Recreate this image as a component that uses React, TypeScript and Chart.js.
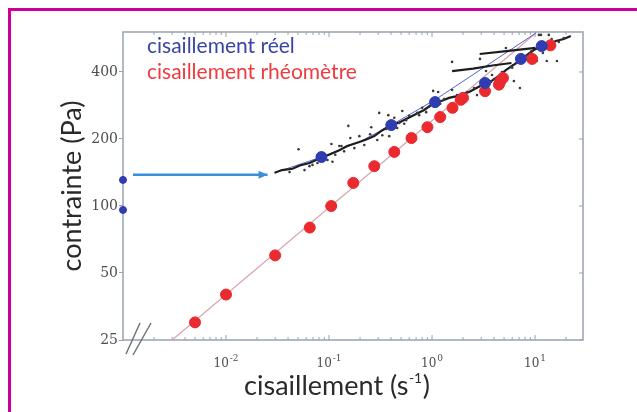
import React, { useEffect, useRef } from 'react';
import { Chart, registerables } from 'chart.js';

Chart.register(...registerables);

// ---- axis ranges ----
const shearMin = 0.001;
const shearMax = 29.2;
const stressMin = 25;
const stressMax = 605;

// ---- ticks ----
const stressTicks = [25, 50, 100, 200, 400];
const shearMajorTicks = [0.01, 0.1, 1, 10];
const shearTickBase = ['10', '10', '10', '10'];
const shearTickExp = ['-2', '-1', '0', '1'];
const shearMinorTicks = [
  0.002, 0.003, 0.004, 0.005, 0.006, 0.007, 0.008, 0.009,
  0.02, 0.03, 0.04, 0.05, 0.06, 0.07, 0.08, 0.09,
  0.2, 0.3, 0.4, 0.5, 0.6, 0.7, 0.8, 0.9,
  2, 3, 4, 5, 6, 7, 8, 9, 20,
];

// ---- texts ----
const xTitleMain = 'cisaillement (s';
const xTitleExp = '-1';
const xTitleEnd = ')';
const yTitle = 'contrainte (Pa)';
const legendReal = 'cisaillement réel';
const legendRheo = 'cisaillement rhéomètre';

// ---- rheometer shear (red markers) ----
const rheoShear = [0.005, 0.01, 0.03, 0.065, 0.105, 0.172, 0.275, 0.43, 0.632, 0.902, 1.2, 1.58, 1.9, 2.0, 3.27, 4.46, 4.6, 4.88, 9.37, 14.1];
const rheoStress = [30, 40, 60, 80, 100, 127, 151, 175, 202, 226, 251, 276, 300, 306, 328, 351, 363, 376, 458, 527];

// ---- real shear (blue markers) ----
const realShear = [0.0844, 0.402, 1.07, 3.27, 7.29, 11.6];
const realStress = [166, 231, 293, 357, 458, 523];

// ---- blue markers on the (broken) stress axis ----
const axisStress = [131, 96];

// ---- noisy measured curve (black) ----
const curveShear = [0.0296, 0.035, 0.0442, 0.052, 0.0646, 0.075, 0.0844, 0.1, 0.126, 0.15, 0.197, 0.23, 0.275, 0.33, 0.402, 0.48, 0.6, 0.7, 0.839, 1.07, 1.25, 1.46, 1.7, 1.95, 2.29, 2.7, 3.27, 3.8, 4.46, 5.21, 6.2, 7.29, 8.5, 9.73, 11.6, 13.5, 15.9, 19, 22.2];
const curveStress = [141, 145, 147, 152, 156, 161, 166, 170, 178, 186, 194, 199, 206, 219, 231, 237, 250, 259, 270, 293, 297, 306, 311, 318, 325, 339, 355, 365, 384, 408, 431, 455, 480, 502, 523, 533, 551, 563, 580];

// ---- short black segments ----
const seg1Shear = [1.565, 2.5, 4.0, 5.9];
const seg1Stress = [404, 414, 429, 439];
const seg2Shear = [2.9, 5.0, 10.1];
const seg2Stress = [482, 495, 513];

// ---- thin fit lines ----
const blueFitShear = [0.0296, 0.0844, 0.197, 0.402, 1.07, 10.2];
const blueFitStress = [141, 166, 194, 231, 300, 599];
const rheoFitShear = [0.003, 10.2];
const rheoFitStress = [25, 599];

// ---- arrow ----
const arrowShear = [0.00125, 0.0253];
const arrowStress = [138, 138];

// ---- scattered raw data points ----
const dotShear = [0.154, 0.161, 0.197, 0.1055, 0.132, 0.0506, 0.0965, 0.108, 0.0691, 0.0646, 0.257, 0.307, 0.376, 0.43, 1.025, 1.146, 1.565, 2.92, 5.21, 6.23, 7.13, 16.3, 13.0, 11.9, 11.4, 13.6, 0.877, 0.126, 2.73, 3.34, 3.82, 10.4, 14.5, 10.9, 1.565, 0.514, 0.48, 0.6, 0.329, 0.384, 0.802, 0.0414, 0.0578, 0.0772, 0.115, 0.176, 0.22, 0.294, 0.459, 0.537, 0.717, 0.938, 1.31, 1.75, 2.19, 2.556, 3.73, 4.17, 4.77, 5.83, 6.66, 8.15, 8.91, 17.0, 19.0, 0.09, 0.14, 0.25, 0.36, 0.56, 0.75, 1.2, 2.05, 3.0, 4.0, 6.0, 9.2, 12.8, 15.0];
const dotStress = [229, 202, 206, 190, 186, 180, 161, 158, 153, 151, 226, 262, 256, 249, 329, 325, 444, 458, 513, 364, 339, 448, 448, 487, 587, 587, 264, 186, 315, 404, 388, 448, 563, 587, 332, 267, 236, 254, 208, 206, 276, 142, 145, 156, 170, 182, 188, 198, 224, 234, 262, 279, 302, 315, 325, 339, 361, 372, 400, 421, 439, 472, 487, 546, 569, 163, 176, 210, 222, 243, 256, 288, 315, 346, 372, 418, 495, 530, 545];

const pts = (xs: number[], ys: number[]) => xs.map((x, i) => ({ x, y: ys[i] }));

const BLUE = '#2f3db3';
const RED = '#ea2a2e';
const AXIS = '#98a2ae';
const TITLE_FONT = 'Lato';

const decorPlugin = {
  id: 'decor',
  beforeDraw(chart: any) {
    const { ctx, width, height } = chart;
    ctx.save();
    ctx.fillStyle = '#ffffff';
    ctx.fillRect(0, 0, width, height);
    ctx.restore();
  },
  beforeDatasetsDraw(chart: any) {
    const { ctx, chartArea: a, scales } = chart;
    const xs = scales.x;
    const ys = scales.y;
    ctx.save();
    ctx.strokeStyle = AXIS;
    ctx.lineWidth = 1.5;
    ctx.strokeRect(a.left, a.top, a.right - a.left, a.bottom - a.top);
    ctx.lineWidth = 1;
    const drawX = (v: number, len: number) => {
      const px = xs.getPixelForValue(v);
      ctx.beginPath();
      ctx.moveTo(px, a.bottom);
      ctx.lineTo(px, a.bottom - len);
      ctx.moveTo(px, a.top);
      ctx.lineTo(px, a.top + len);
      ctx.stroke();
    };
    shearMinorTicks.forEach((v) => drawX(v, 3));
    shearMajorTicks.forEach((v) => drawX(v, 5));
    stressTicks.forEach((v) => {
      const py = ys.getPixelForValue(v);
      ctx.beginPath();
      ctx.moveTo(a.right, py);
      ctx.lineTo(a.right - 4, py);
      ctx.stroke();
    });
    // x tick labels with superscript exponents
    ctx.fillStyle = '#4d4d4d';
    ctx.textBaseline = 'alphabetic';
    ctx.textAlign = 'left';
    shearMajorTicks.forEach((v, i) => {
      const px = xs.getPixelForValue(v);
      ctx.font = '12px "DejaVu Serif"';
      const wb = ctx.measureText(shearTickBase[i]).width;
      ctx.font = '9px "DejaVu Serif"';
      const we = ctx.measureText(shearTickExp[i]).width;
      const x0 = px - (wb + we + 1) / 2;
      ctx.font = '12px "DejaVu Serif"';
      ctx.fillText(shearTickBase[i], x0, a.bottom + 27);
      ctx.font = '9px "DejaVu Serif"';
      ctx.fillText(shearTickExp[i], x0 + wb + 1, a.bottom + 21);
    });
    // x axis title with superscript
    ctx.fillStyle = '#2a2a2a';
    ctx.font = `27px ${TITLE_FONT}`;
    const w1 = ctx.measureText(xTitleMain).width;
    const w3 = ctx.measureText(xTitleEnd).width;
    ctx.font = `14px ${TITLE_FONT}`;
    const w2 = ctx.measureText(xTitleExp).width;
    const tx = 337 - (w1 + w2 + w3 + 1) / 2;
    const ty = a.bottom + 55;
    ctx.font = `27px ${TITLE_FONT}`;
    ctx.fillText(xTitleMain, tx, ty);
    ctx.fillText(xTitleEnd, tx + w1 + w2 + 1, ty);
    ctx.font = `14px ${TITLE_FONT}`;
    ctx.fillText(xTitleExp, tx + w1 + 0.5, ty - 12);
    // axis break marks
    ctx.strokeStyle = '#6f757c';
    ctx.lineWidth = 1.5;
    ctx.beginPath();
    ctx.moveTo(a.left + 3, a.bottom + 14);
    ctx.lineTo(a.left + 17, a.bottom - 17);
    ctx.moveTo(a.left + 10, a.bottom + 15);
    ctx.lineTo(a.left + 28, a.bottom - 17);
    ctx.stroke();
    ctx.restore();
  },
  afterDatasetsDraw(chart: any) {
    const { ctx, chartArea: a } = chart;
    ctx.save();
    const idx = chart.data.datasets.findIndex((d: any) => d.label === 'arrow');
    const meta = chart.getDatasetMeta(idx);
    const p1 = meta.data[meta.data.length - 1];
    const p0 = meta.data[0];
    const ang = Math.atan2(p1.y - p0.y, p1.x - p0.x);
    ctx.fillStyle = '#3a8fdc';
    ctx.beginPath();
    ctx.moveTo(p1.x, p1.y);
    ctx.lineTo(p1.x - 9 * Math.cos(ang) + 4 * Math.sin(ang), p1.y - 9 * Math.sin(ang) - 4 * Math.cos(ang));
    ctx.lineTo(p1.x - 9 * Math.cos(ang) - 4 * Math.sin(ang), p1.y - 9 * Math.sin(ang) + 4 * Math.cos(ang));
    ctx.closePath();
    ctx.fill();
    ctx.font = `21px ${TITLE_FONT}`;
    ctx.textAlign = 'left';
    ctx.textBaseline = 'alphabetic';
    ctx.fillStyle = '#3a44a6';
    ctx.fillText(legendReal, a.left + 24, a.top + 21);
    ctx.fillStyle = '#ef3a3e';
    ctx.fillText(legendRheo, a.left + 24, a.top + 47);
    ctx.restore();
  },
  afterDraw(chart: any) {
    const { ctx, width, height } = chart;
    ctx.save();
    ctx.fillStyle = '#cc0099';
    ctx.fillRect(8, 8, width - 8, 3);
    ctx.fillRect(8, 8, 3, height - 8);
    ctx.restore();
  },
};

export default function App() {
  const ref = useRef<HTMLCanvasElement | null>(null);

  useEffect(() => {
    if (!ref.current) return;
    const chart = new Chart(ref.current, {
      type: 'scatter',
      data: {
        datasets: [
          { label: 'real', data: pts(realShear, realStress), backgroundColor: BLUE, borderColor: BLUE, pointRadius: 5.5, order: 0 },
          { label: 'axis', data: axisStress.map((y) => ({ x: shearMin, y })), backgroundColor: BLUE, borderColor: BLUE, pointRadius: 3.5, clip: false, order: 0 },
          { label: 'rheo', data: pts(rheoShear, rheoStress), backgroundColor: RED, borderColor: RED, pointRadius: 5.5, order: 1 },
          { label: 'arrow', data: pts(arrowShear, arrowStress), showLine: true, borderColor: '#3a8fdc', borderWidth: 2.5, pointRadius: 0, clip: false, order: 2 },
          { label: 'dots', data: pts(dotShear, dotStress), backgroundColor: '#3a3a3a', borderColor: '#3a3a3a', pointRadius: 1.3, borderWidth: 0, order: 3 },
          { label: 'curve', data: pts(curveShear, curveStress), showLine: true, borderColor: '#1d1d1f', borderWidth: 2.2, pointRadius: 0, order: 4 },
          { label: 'seg1', data: pts(seg1Shear, seg1Stress), showLine: true, borderColor: '#1d1d1f', borderWidth: 2.2, pointRadius: 0, order: 4 },
          { label: 'seg2', data: pts(seg2Shear, seg2Stress), showLine: true, borderColor: '#1d1d1f', borderWidth: 2.2, pointRadius: 0, order: 4 },
          { label: 'blueFit', data: pts(blueFitShear, blueFitStress), showLine: true, borderColor: '#5663cc', borderWidth: 1, pointRadius: 0, order: 5 },
          { label: 'rheoFit', data: pts(rheoFitShear, rheoFitStress), showLine: true, borderColor: '#d9a3ae', borderWidth: 1.2, pointRadius: 0, order: 6 },
        ],
      },
      options: {
        animation: false,
        responsive: false,
        maintainAspectRatio: false,
        events: [],
        layout: { padding: { left: 0, right: 54, top: 32, bottom: 0 } },
        plugins: { legend: { display: false }, tooltip: { enabled: false } },
        scales: {
          x: {
            type: 'logarithmic',
            min: shearMin,
            max: shearMax,
            afterBuildTicks: (s: any) => {
              s.ticks = shearMajorTicks.map((v) => ({ value: v }));
            },
            afterFit: (s: any) => {
              s.height = 72;
            },
            grid: { display: false, drawTicks: false },
            border: { display: false },
            ticks: { display: false },
            title: { display: false },
          },
          y: {
            type: 'logarithmic',
            min: stressMin,
            max: stressMax,
            afterBuildTicks: (s: any) => {
              s.ticks = stressTicks.map((v) => ({ value: v }));
            },
            afterFit: (s: any) => {
              s.width = 123;
            },
            grid: { display: true, drawOnChartArea: false, drawTicks: true, tickLength: 4, color: AXIS },
            border: { display: false },
            ticks: {
              autoSkip: false,
              padding: 1,
              color: '#4d4d4d',
              font: { family: 'DejaVu Serif', size: 14 },
              callback: (v: any) => String(v),
            },
            title: {
              display: true,
              text: yTitle,
              color: '#2a2a2a',
              font: { family: TITLE_FONT, size: 27 },
              padding: { top: 56, bottom: 0 },
            },
          },
        },
      },
      plugins: [decorPlugin],
    } as any);
    return () => chart.destroy();
  }, []);

  return (
    <div style={{ position: 'fixed', left: 0, top: 0, width: 637, height: 412, background: '#fff' }}>
      <canvas ref={ref} width={637} height={412} style={{ display: 'block', width: 637, height: 412 }} />
    </div>
  );
}
